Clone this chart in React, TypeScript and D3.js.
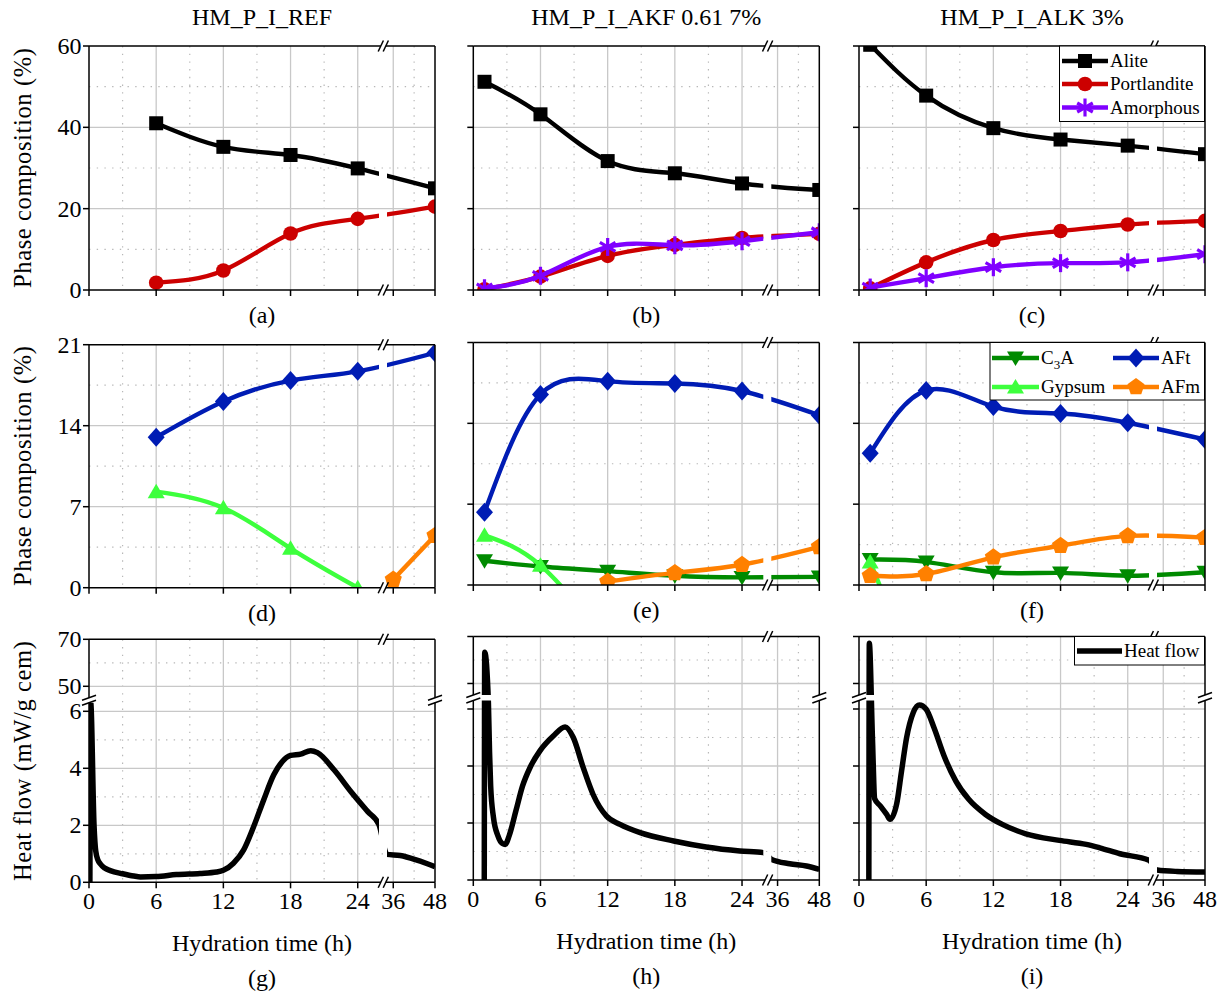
import React from 'react';
import * as d3 from 'd3';

const FONT = "'Liberation Serif','Times New Roman',Times,serif";

// ---------------- axes / labels ----------------
const X_DOMAIN = [0, 25.9, 34.2, 48];
const xTickValues = [0, 6, 12, 18, 24, 36, 48];
const xTickLabels = ['0', '6', '12', '18', '24', '36', '48'];
const xGridMajor = [6, 12, 18, 24, 36];
const xGridMinor = [3, 9, 15, 21, 42];

const sampleTitles = ['HM_P_I_REF', 'HM_P_I_AKF 0.61 7%', 'HM_P_I_ALK 3%'];
const panelLetters = [['(a)', '(b)', '(c)'], ['(d)', '(e)', '(f)'], ['(g)', '(h)', '(i)']];
const yAxisTitles = ['Phase composition (%)', 'Phase composition (%)', 'Heat flow (mW/g cem)'];
const xAxisTitle = 'Hydration time (h)';

const phase1Ticks = [0, 20, 40, 60];
const phase1Grid = [20, 40];
const phase1Minor = [10, 30, 50];
const phase2Ticks = [0, 7, 14, 21];
const phase2Grid = [7, 14];
const phase2Minor = [3.5, 10.5, 17.5];
const heatTicks = [0, 2, 4, 6, 50, 70];
const heatGrid = [2, 4, 6, 50];
const heatMinor = [1, 3, 5, 60];
const HEAT_DOMAIN = [0, 6.3, 45.1, 70];

// ---------------- phase data ----------------
const tREF = [6, 12, 18, 24, 48];
const tADD = [1, 6, 12, 18, 24, 48];

const refAlite = [41.0, 35.2, 33.2, 29.9, 25.0];
const refPortlandite = [1.8, 4.8, 13.9, 17.5, 20.5];
const akfAlite = [51.2, 43.2, 31.7, 28.7, 26.2, 24.6];
const akfPortlandite = [0.2, 3.3, 8.4, 11.1, 12.8, 13.8];
const akfAmorphous = [0.4, 3.5, 10.6, 11.0, 12.0, 14.2];
const alkAlite = [60.3, 47.8, 39.8, 37.0, 35.5, 33.4];
const alkPortlandite = [0.4, 6.8, 12.3, 14.5, 16.1, 17.0];
const alkAmorphous = [0.6, 2.9, 5.6, 6.6, 6.8, 8.8];

const refAFt = [13.0, 16.1, 17.9, 18.7, 20.3];
const tRefGypsum = [6, 12, 18, 24];
const refGypsum = [8.3, 6.9, 3.4, 0];
const tRefAFm = [36, 48];
const refAFm = [0.7, 4.5];

const akfAFt = [6.3, 16.5, 17.65, 17.45, 16.8, 14.7];
const akfC3A = [2.1, 1.6, 1.2, 0.8, 0.66, 0.7];
const tAkfGypsum = [1, 6, 12];
const akfGypsum = [4.3, 1.7, -5];
const tAkfAFm = [12, 18, 24, 48];
const akfAFm = [0.3, 1.05, 1.75, 3.3];

const alkAFt = [11.4, 16.85, 15.45, 14.85, 14.05, 12.6];
const alkC3A = [2.2, 2.0, 1.1, 1.05, 0.8, 1.1];
const tAlkGypsum = [1, 6];
const alkGypsum = [2.0, -10];
const alkAFm = [0.8, 0.95, 2.4, 3.4, 4.25, 4.1];

// ---------------- heat flow data ----------------
const heatRefT = [0.08, 0.15, 0.45, 0.6, 0.8, 1.0, 1.4, 1.9, 3.0, 4.0, 4.6, 6.0, 7.8, 9.9, 11.4, 12.0, 12.9, 13.8, 14.7, 15.6, 16.5, 17.25, 18.0, 18.9, 19.8, 20.4, 21.9, 23.4, 24.9, 25.9, 34.2, 38.0, 42.8, 48.0];
const heatRef = [0, 10, 2.0, 1.1, 0.78, 0.65, 0.5, 0.41, 0.3, 0.22, 0.19, 0.2, 0.27, 0.31, 0.36, 0.42, 0.67, 1.13, 1.95, 2.89, 3.77, 4.23, 4.45, 4.5, 4.62, 4.55, 3.94, 3.18, 2.48, 2.02, 0.98, 0.94, 0.78, 0.55];

const heatAkfT = [0.98, 1.02, 1.35, 1.45, 1.55, 1.8, 2.2, 2.6, 2.85, 3.2, 3.8, 4.4, 5.06, 5.95, 7.14, 8.2, 8.93, 9.82, 10.7, 11.9, 13.1, 14.9, 17.9, 20.8, 23.8, 25.9, 34.3, 39.5, 44.3, 48];
const heatAkf = [0, 63.3, 6.2, 4.5, 3.3, 2.2, 1.55, 1.28, 1.25, 1.55, 2.42, 3.3, 3.94, 4.53, 5.05, 5.37, 5.0, 3.94, 3.0, 2.24, 1.95, 1.66, 1.37, 1.16, 1.02, 0.96, 0.72, 0.57, 0.49, 0.37];

const heatAlkT = [0.88, 0.92, 1.2, 1.4, 1.9, 2.47, 2.77, 3.36, 3.8, 4.25, 4.84, 5.4, 6.0, 6.7, 7.6, 8.65, 9.8, 11.3, 12.8, 14.9, 17.9, 20.3, 21.5, 23.3, 25.9, 34.2, 40, 48];
const heatAlk = [0, 67.1, 5.0, 2.85, 2.6, 2.3, 2.13, 2.66, 3.82, 4.99, 5.87, 6.14, 5.99, 5.34, 4.35, 3.47, 2.83, 2.3, 1.95, 1.62, 1.39, 1.25, 1.13, 0.92, 0.69, 0.35, 0.3, 0.28];

// ---------------- styles ----------------
const C = {
  Alite: '#000000',
  Portlandite: '#cc0000',
  Amorphous: '#8000ff',
  C3A: '#008a00',
  Gypsum: '#3dff3d',
  AFt: '#001cb4',
  AFm: '#ff8000',
  Heat: '#000000',
};

// layout
const COL_X = [89, 473.3, 859];
const PANEL_W = 346;
const ROW_BOX = [
  [[46, 244], [46, 244], [46, 244]],
  [[344.7, 243], [342.5, 242.5], [342.5, 242.5]],
  [[639.3, 243], [636.5, 243.5], [636.5, 243.5]],
];
const LW = 4.4;
const HLW = 5.5;

type Series = { t: number[]; v: number[]; color: string; marker: string | null; width: number; curve: any };

function Marker({ kind, x, y, color }: { kind: string; x: number; y: number; color: string }) {
  if (kind === 'square') return <rect x={x - 7} y={y - 7} width={14} height={14} fill={color} />;
  if (kind === 'circle') return <circle cx={x} cy={y} r={7.3} fill={color} />;
  if (kind === 'star') {
    const r = 9;
    return (
      <g stroke={color} strokeWidth={3.2}>
        {[90, 30, 150].map((a) => {
          const rad = (a * Math.PI) / 180;
          const dx = r * Math.cos(rad), dy = r * Math.sin(rad);
          return <line key={a} x1={x - dx} y1={y - dy} x2={x + dx} y2={y + dy} />;
        })}
      </g>
    );
  }
  if (kind === 'diamond') return <polygon points={`${x},${y - 9.5} ${x + 8.5},${y} ${x},${y + 9.5} ${x - 8.5},${y}`} fill={color} />;
  if (kind === 'triDown') return <polygon points={`${x - 8.5},${y - 6.5} ${x + 8.5},${y - 6.5} ${x},${y + 8}`} fill={color} />;
  if (kind === 'triUp') return <polygon points={`${x - 8.5},${y + 6.5} ${x + 8.5},${y + 6.5} ${x},${y - 8}`} fill={color} />;
  if (kind === 'pentagon') {
    const pts = d3.range(5).map((i) => {
      const a = -Math.PI / 2 + (i * 2 * Math.PI) / 5;
      return `${x + 9 * Math.cos(a)},${y + 9 * Math.sin(a)}`;
    }).join(' ');
    return <polygon points={pts} fill={color} />;
  }
  return null;
}

function Panel(p: {
  id: string; x0: number; y0: number; w: number; h: number;
  y: (v: number) => number;
  yTicks: number[]; yTickLabels: boolean; yGrid: number[]; yMinor: number[];
  yGap: [number, number] | null; xLabels: boolean; series: Series[];
}) {
  const { id, x0, y0, w, h, y } = p;
  const x = d3.scaleLinear().domain(X_DOMAIN).range([x0, x0 + 290, x0 + 298, x0 + w]);
  const bottom = y0 + h, right = x0 + w;
  const xs = [[x0, x0 + 290], [x0 + 298, right]];
  const ys = p.yGap ? [[y0, p.yGap[0]], [p.yGap[1], bottom]] : [[y0, bottom]];
  const b1 = x0 + 291.8, b2 = x0 + 296.8;
  const mk = (s: Series) =>
    d3.line<[number, number]>().x((d) => x(d[0])).y((d) => y(d[1])).curve(s.curve)(
      s.t.map((t, i) => [t, s.v[i]] as [number, number])
    ) || '';
  const vSegs = p.yGap ? [[y0, p.yGap[0]], [p.yGap[1], bottom]] : [[y0, bottom]];
  const xSlash = (cx: number, cy: number, k: string) => (
    <line key={k} x1={cx - 2.6} y1={cy + 5.5} x2={cx + 2.6} y2={cy - 5.5} />
  );
  const ySlash = (cx: number, cy: number, k: string) => (
    <line key={k} x1={cx - 7} y1={cy + 2.5} x2={cx + 7} y2={cy - 2.5} />
  );
  return (
    <g>
      <defs>
        <clipPath id={`cl-${id}`}>
          {xs.flatMap(([a, b]) => ys.map(([c, d]) => <rect key={`${a}-${c}`} x={a} y={c} width={b - a} height={d - c} />))}
        </clipPath>
        <clipPath id={`cm-${id}`}>
          <rect x={x0} y={y0} width={w} height={h} />
        </clipPath>
      </defs>
      <g stroke="#b8b8b8" strokeWidth={1.2} strokeDasharray="1.4 6.3">
        {xGridMinor.map((t) => <line key={'vx' + t} x1={x(t)} x2={x(t)} y1={y0} y2={bottom} />)}
        {p.yMinor.map((v) => <line key={'hy' + v} x1={x0} x2={right} y1={y(v)} y2={y(v)} />)}
      </g>
      <g stroke="#c8c8c8" strokeWidth={1.3}>
        {xGridMajor.map((t) => <line key={'vX' + t} x1={x(t)} x2={x(t)} y1={y0} y2={bottom} />)}
        {p.yGrid.map((v) => <line key={'hY' + v} x1={x0} x2={right} y1={y(v)} y2={y(v)} />)}
      </g>
      {p.series.map((s, i) => (
        <g key={i}>
          <path d={mk(s)} fill="none" stroke={s.color} strokeWidth={s.width} strokeLinejoin="round" clipPath={`url(#cl-${id})`} />
          {s.marker && (
            <g clipPath={`url(#cm-${id})`}>
              {s.t.map((t, j) => <Marker key={j} kind={s.marker as string} x={x(t)} y={y(s.v[j])} color={s.color} />)}
            </g>
          )}
        </g>
      ))}
      <g stroke="#000" strokeWidth={1.5} fill="none">
        <line x1={x0} x2={b1} y1={bottom} y2={bottom} />
        <line x1={b2} x2={right} y1={bottom} y2={bottom} />
        <line x1={x0} x2={b1} y1={y0} y2={y0} />
        <line x1={b2} x2={right} y1={y0} y2={y0} />
        {vSegs.map(([a, b], i) => <line key={'l' + i} x1={x0} x2={x0} y1={a} y2={b} />)}
        {vSegs.map(([a, b], i) => <line key={'r' + i} x1={right} x2={right} y1={a} y2={b} />)}
        {xSlash(b1, bottom, 'sb1')}
        {xSlash(b2, bottom, 'sb2')}
        {xSlash(b1, y0, 'st1')}
        {xSlash(b2, y0, 'st2')}
        {p.yGap && [ySlash(x0, p.yGap[0], 'yl1'), ySlash(x0, p.yGap[1], 'yl2'), ySlash(right, p.yGap[0], 'yr1'), ySlash(right, p.yGap[1], 'yr2')]}
        {p.yTicks.map((v) => <line key={'yt' + v} x1={x0 - 6} x2={x0} y1={y(v)} y2={y(v)} />)}
        {xTickValues.map((t) => <line key={'xt' + t} x1={x(t)} x2={x(t)} y1={bottom} y2={bottom + 6} />)}
      </g>
      {p.yTickLabels && (
        <g fontSize={24} textAnchor="end">
          {p.yTicks.map((v) => (
            <text key={'ytl' + v} x={x0 - 7.5} y={y(v)} dy="0.34em">{v}</text>
          ))}
        </g>
      )}
      {p.xLabels && (
        <g fontSize={24} textAnchor="middle">
          {xTickValues.map((t, i) => (
            <text key={'xtl' + t} x={x(t)} y={bottom + 26.5}>{xTickLabels[i]}</text>
          ))}
        </g>
      )}
    </g>
  );
}

function LegendItem({ x1, x2, y, color, marker, label, lw, fs }: any) {
  const cx = (x1 + x2) / 2;
  return (
    <g>
      <line x1={x1} x2={x2} y1={y} y2={y} stroke={color} strokeWidth={lw} />
      {marker && <Marker kind={marker} x={cx} y={y} color={color} />}
      <text x={x2 + 2} y={y} dy="0.33em" fontSize={fs}>{label}</text>
    </g>
  );
}

export default function App() {
  const nat = d3.curveNatural;
  const mono = d3.curveMonotoneX;
  const phaseRow1: Series[][] = [
    [
      { t: tREF, v: refAlite, color: C.Alite, marker: 'square', width: LW, curve: nat },
      { t: tREF, v: refPortlandite, color: C.Portlandite, marker: 'circle', width: LW, curve: nat },
    ],
    [
      { t: tADD, v: akfAlite, color: C.Alite, marker: 'square', width: LW, curve: nat },
      { t: tADD, v: akfPortlandite, color: C.Portlandite, marker: 'circle', width: LW, curve: nat },
      { t: tADD, v: akfAmorphous, color: C.Amorphous, marker: 'star', width: LW, curve: nat },
    ],
    [
      { t: tADD, v: alkAlite, color: C.Alite, marker: 'square', width: LW, curve: nat },
      { t: tADD, v: alkPortlandite, color: C.Portlandite, marker: 'circle', width: LW, curve: nat },
      { t: tADD, v: alkAmorphous, color: C.Amorphous, marker: 'star', width: LW, curve: nat },
    ],
  ];
  const phaseRow2: Series[][] = [
    [
      { t: tRefGypsum, v: refGypsum, color: C.Gypsum, marker: 'triUp', width: LW, curve: nat },
      { t: tREF, v: refAFt, color: C.AFt, marker: 'diamond', width: LW, curve: nat },
      { t: tRefAFm, v: refAFm, color: C.AFm, marker: 'pentagon', width: LW, curve: nat },
    ],
    [
      { t: tADD, v: akfC3A, color: C.C3A, marker: 'triDown', width: LW, curve: nat },
      { t: tAkfGypsum, v: akfGypsum, color: C.Gypsum, marker: 'triUp', width: LW, curve: nat },
      { t: tADD, v: akfAFt, color: C.AFt, marker: 'diamond', width: LW, curve: nat },
      { t: tAkfAFm, v: akfAFm, color: C.AFm, marker: 'pentagon', width: LW, curve: nat },
    ],
    [
      { t: tADD, v: alkC3A, color: C.C3A, marker: 'triDown', width: LW, curve: nat },
      { t: tAlkGypsum, v: alkGypsum, color: C.Gypsum, marker: 'triUp', width: LW, curve: nat },
      { t: tADD, v: alkAFt, color: C.AFt, marker: 'diamond', width: LW, curve: nat },
      { t: tADD, v: alkAFm, color: C.AFm, marker: 'pentagon', width: LW, curve: nat },
    ],
  ];
  const heatRow: Series[][] = [
    [{ t: heatRefT, v: heatRef, color: C.Heat, marker: null, width: HLW, curve: mono }],
    [{ t: heatAkfT, v: heatAkf, color: C.Heat, marker: null, width: HLW, curve: mono }],
    [{ t: heatAlkT, v: heatAlk, color: C.Heat, marker: null, width: HLW, curve: mono }],
  ];

  const panels: React.ReactNode[] = [];
  const letters: React.ReactNode[] = [];
  for (let r = 0; r < 3; r++) {
    for (let c = 0; c < 3; c++) {
      const x0 = COL_X[c];
      const [y0, h] = ROW_BOX[r][c];
      let y: any, yTicks: number[], yGrid: number[], yMinor: number[], yGap: [number, number] | null = null, series: Series[];
      if (r === 0) {
        y = d3.scaleLinear().domain([0, 60]).range([y0 + h, y0]);
        yTicks = phase1Ticks; yGrid = phase1Grid; yMinor = phase1Minor; series = phaseRow1[c];
      } else if (r === 1) {
        y = d3.scaleLinear().domain([0, 21]).range([y0 + h, y0]);
        yTicks = phase2Ticks; yGrid = phase2Grid; yMinor = phase2Minor; series = phaseRow2[c];
      } else {
        const lowTop = y0 + h - 6.3 * 28.5;
        y = d3.scaleLinear().domain(HEAT_DOMAIN).range([y0 + h, lowTop, y0 + 58.5, y0]);
        yTicks = heatTicks; yGrid = heatGrid; yMinor = heatMinor; series = heatRow[c];
        yGap = [y0 + 58.5, lowTop];
      }
      panels.push(
        <Panel key={`p${r}${c}`} id={`p${r}${c}`} x0={x0} y0={y0} w={PANEL_W} h={h} y={y}
          yTicks={yTicks} yTickLabels={c === 0} yGrid={yGrid} yMinor={yMinor} yGap={yGap}
          xLabels={r === 2} series={series} />
      );
      const cx = x0 + PANEL_W / 2;
      const bottom = y0 + h;
      if (r < 2) {
        letters.push(<text key={`L${r}${c}`} x={cx} y={bottom + 33} textAnchor="middle" fontSize={24}>{panelLetters[r][c]}</text>);
      } else {
        letters.push(<text key={`X${c}`} x={cx} y={bottom + 68.5} textAnchor="middle" fontSize={24}>{xAxisTitle}</text>);
        letters.push(<text key={`L${r}${c}`} x={cx} y={bottom + 103.5} textAnchor="middle" fontSize={24}>{panelLetters[r][c]}</text>);
      }
    }
  }

  const yTitleCenters = [168, 466, 761];

  return (
    <svg width={1225} height={996} style={{ position: 'absolute', left: 0, top: 0 }} fontFamily={FONT}>
      <rect x={0} y={0} width={1225} height={996} fill="#fff" />
      {panels}
      {letters}
      {sampleTitles.map((t, i) => (
        <text key={t} x={COL_X[i] + PANEL_W / 2} y={25} textAnchor="middle" fontSize={24}>{t}</text>
      ))}
      {yAxisTitles.map((t, i) => (
        <text key={i} transform={`translate(30.5,${yTitleCenters[i]}) rotate(-90)`} textAnchor="middle" fontSize={24.5}
          textLength={240} lengthAdjust="spacing">{t}</text>
      ))}
      {/* legend (c) */}
      <g>
        <rect x={1059.5} y={46} width={145} height={75.5} fill="#fff" stroke="#000" strokeWidth={1} />
        <LegendItem x1={1062} x2={1108} y={61} color={C.Alite} marker="square" label="Alite" lw={LW} fs={19} />
        <LegendItem x1={1062} x2={1108} y={84} color={C.Portlandite} marker="circle" label="Portlandite" lw={LW} fs={19} />
        <LegendItem x1={1062} x2={1108} y={107.5} color={C.Amorphous} marker="star" label="Amorphous" lw={LW} fs={19} />
      </g>
      {/* legend (f) */}
      <g>
        <rect x={990} y={342.5} width={214.5} height={57.5} fill="#fff" stroke="#000" strokeWidth={1} />
        <LegendItem x1={992} x2={1039} y={358} color={C.C3A} marker="triDown" lw={LW} fs={19}
          label={<>C<tspan dy="5" fontSize={13}>3</tspan><tspan dy="-5">A</tspan></>} />
        <LegendItem x1={992} x2={1039} y={387} color={C.Gypsum} marker="triUp" label="Gypsum" lw={LW} fs={19} />
        <LegendItem x1={1113} x2={1159} y={358} color={C.AFt} marker="diamond" label="AFt" lw={LW} fs={19} />
        <LegendItem x1={1113} x2={1159} y={387} color={C.AFm} marker="pentagon" label="AFm" lw={LW} fs={19} />
      </g>
      {/* legend (i) */}
      <g>
        <rect x={1074.5} y={636.5} width={130} height={28.5} fill="#fff" stroke="#000" strokeWidth={1} />
        <LegendItem x1={1077} x2={1122} y={651} color={C.Heat} marker={null} label="Heat flow" lw={HLW} fs={19} />
      </g>
    </svg>
  );
}
